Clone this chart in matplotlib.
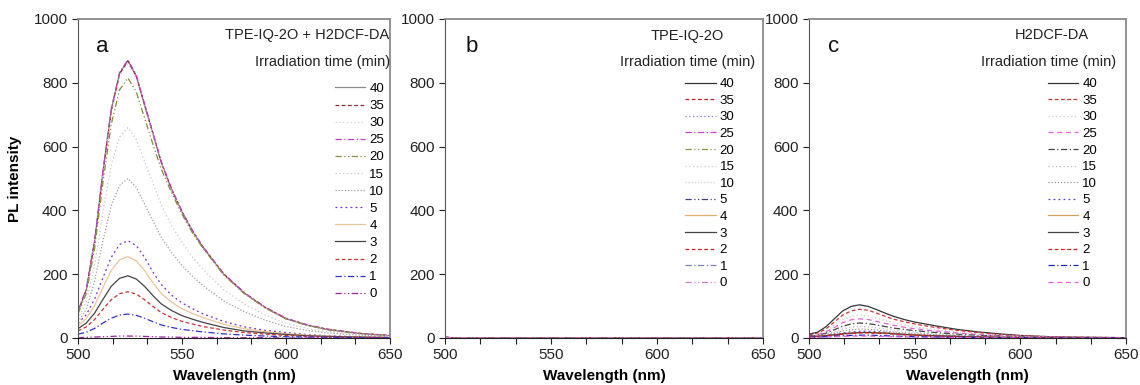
import matplotlib
matplotlib.use("Agg")
import matplotlib.pyplot as plt
from matplotlib.ticker import MultipleLocator

plt.rcParams['font.family'] = ['Liberation Sans', 'DejaVu Sans']

# wavelength grid (nm)
wl = [500, 504, 508, 512, 516, 520, 524, 528, 532, 536, 540, 545, 550, 555,
      560, 570, 580, 590, 600, 610, 620, 635, 650]
wl_b = [500, 502, 506, 520, 550, 600, 650]

times = ['40', '35', '30', '25', '20', '15', '10', '5', '4', '3', '2', '1', '0']

# panel a: TPE-IQ-2O + H2DCF-DA
a_40 = [80, 150, 300, 520, 715, 830, 870, 820, 730, 640, 550, 465, 395, 335, 285, 200, 140, 95, 60, 40, 26, 14, 7]
a_35 = [82, 152, 302, 518, 712, 828, 868, 822, 732, 642, 552, 466, 396, 336, 286, 201, 141, 96, 61, 41, 27, 15, 8]
a_30 = [78, 146, 294, 512, 705, 820, 860, 812, 725, 636, 548, 463, 394, 334, 284, 199, 139, 94, 60, 40, 26, 14, 7]
a_25 = [85, 155, 305, 522, 718, 832, 872, 824, 734, 644, 553, 468, 397, 337, 287, 202, 142, 97, 62, 42, 28, 15, 8]
a_20 = [75, 140, 281, 487, 670, 778, 815, 772, 690, 608, 530, 455, 388, 330, 282, 198, 139, 94, 60, 40, 26, 14, 7]
a_15 = [60, 114, 228, 395, 543, 630, 660, 622, 554, 486, 417, 352, 300, 254, 216, 152, 106, 72, 46, 30, 20, 11, 5]
a_10 = [50, 90, 178, 305, 415, 478, 500, 472, 420, 368, 316, 268, 228, 194, 165, 116, 82, 56, 36, 24, 16, 9, 4]
a_5 = [46, 73, 122, 189, 253, 293, 305, 290, 253, 207, 168, 134, 110, 92, 76, 52, 35, 24, 17, 11, 7, 4, 2]
a_4 = [38, 61, 102, 158, 212, 245, 255, 242, 212, 173, 140, 112, 92, 77, 64, 43, 29, 20, 14, 9, 6, 3, 2]
a_3 = [29, 47, 78, 121, 162, 187, 195, 185, 162, 133, 107, 86, 70, 59, 49, 33, 22, 16, 11, 7, 5, 3, 1]
a_2 = [22, 35, 58, 90, 120, 139, 145, 138, 120, 99, 80, 64, 52, 44, 36, 25, 17, 12, 8, 5, 3, 2, 1]
a_1 = [12, 18, 30, 47, 62, 72, 75, 71, 62, 51, 41, 33, 27, 23, 19, 13, 9, 6, 4, 3, 2, 1, 1]
a_0 = [1, 2, 3, 4, 5, 6, 6, 6, 5, 4, 3, 3, 2, 2, 2, 1, 1, 1, 0, 0, 0, 0, 0]

# panel b: TPE-IQ-2O (flat)
b_40 = [3, 1, 0, 0, 0, 0, 0]
b_35 = [3, 1, 0, 0, 0, 0, 0]
b_30 = [2, 1, 0, 0, 0, 0, 0]
b_25 = [3, 1, 1, 0, 0, 0, 0]
b_20 = [2, 1, 0, 0, 0, 0, 0]
b_15 = [2, 1, 0, 0, 0, 0, 0]
b_10 = [2, 1, 0, 0, 0, 0, 0]
b_5 = [2, 1, 0, 0, 0, 0, 0]
b_4 = [2, 1, 0, 0, 0, 0, 0]
b_3 = [2, 1, 0, 0, 0, 0, 0]
b_2 = [3, 1, 0, 0, 0, 0, 0]
b_1 = [2, 1, 0, 0, 0, 0, 0]
b_0 = [4, 2, 1, 0, 0, 0, 0]

# panel c: H2DCF-DA
c_40 = [12, 18, 35, 60, 85, 99, 104, 99, 89, 78, 68, 58, 50, 44, 38, 27, 19, 13, 8, 5, 3, 2, 1]
c_35 = [10, 15, 28, 50, 72, 85, 90, 87, 78, 68, 59, 51, 44, 38, 33, 24, 17, 11, 7, 5, 3, 2, 1]
c_30 = [8, 12, 22, 40, 57, 68, 72, 69, 62, 55, 48, 41, 35, 30, 26, 19, 13, 9, 6, 4, 2, 1, 1]
c_25 = [7, 10, 19, 33, 48, 57, 60, 58, 52, 46, 40, 34, 29, 25, 22, 16, 11, 7, 5, 3, 2, 1, 1]
c_20 = [6, 8, 15, 26, 37, 44, 47, 45, 41, 36, 31, 27, 23, 20, 17, 12, 8, 6, 4, 2, 1, 1, 0]
c_15 = [5, 7, 12, 20, 28, 34, 36, 35, 32, 28, 24, 21, 18, 15, 13, 9, 6, 4, 3, 2, 1, 1, 0]
c_10 = [4, 6, 9, 16, 22, 26, 28, 27, 25, 22, 19, 16, 14, 12, 10, 7, 5, 3, 2, 1, 1, 0, 0]
c_5 = [4, 5, 8, 12, 16, 19, 21, 21, 20, 18, 15, 13, 11, 9, 8, 6, 4, 3, 2, 1, 1, 0, 0]
c_4 = [4, 5, 7, 10, 14, 16, 17, 18, 17, 16, 14, 12, 10, 8, 7, 5, 3, 2, 2, 1, 1, 0, 0]
c_3 = [4, 5, 7, 10, 13, 15, 17, 17, 16, 15, 13, 11, 9, 8, 7, 5, 3, 2, 1, 1, 1, 0, 0]
c_2 = [3, 5, 7, 9, 12, 14, 16, 16, 15, 14, 12, 10, 9, 7, 6, 4, 3, 2, 1, 1, 0, 0, 0]
c_1 = [2, 3, 4, 6, 7, 8, 9, 9, 8, 7, 6, 5, 4, 4, 3, 2, 2, 1, 1, 0, 0, 0, 0]
c_0 = [2, 2, 3, 4, 5, 6, 6, 6, 5, 5, 4, 3, 3, 2, 2, 1, 1, 1, 0, 0, 0, 0, 0]

series_a = [a_40, a_35, a_30, a_25, a_20, a_15, a_10, a_5, a_4, a_3, a_2, a_1, a_0]
series_b = [b_40, b_35, b_30, b_25, b_20, b_15, b_10, b_5, b_4, b_3, b_2, b_1, b_0]
series_c = [c_40, c_35, c_30, c_25, c_20, c_15, c_10, c_5, c_4, c_3, c_2, c_1, c_0]

# line styles (color, dashes)
solid = ()
dash = (3, 2)
dot = (1, 2)
dashdot = (5, 2, 1, 2)
dashdotdot = (5, 2, 1, 2, 1, 2)

styles_a = [('#8c8c8c', solid), ('#8b2a2a', dash), ('#d0d0d0', dot), ('#c040c0', dashdot),
            ('#8a8a40', dashdotdot), ('#c8c8c8', dot), ('#a0a0a0', (1, 1.5)), ('#7030d0', (1.5, 2.5)),
            ('#ecc49a', solid), ('#444444', solid), ('#d03030', dash), ('#3030d0', dashdot),
            ('#a020a0', dashdotdot)]
styles_b = [('#333333', solid), ('#c02020', dash), ('#8080e0', dot), ('#d040d0', dashdot),
            ('#8a9a40', dashdotdot), ('#cccccc', dot), ('#cccccc', (1, 1.5)), ('#404080', dashdotdot),
            ('#e0b070', solid), ('#444444', solid), ('#d02020', dash), ('#8080c0', dashdot),
            ('#d080d0', dashdotdot)]
styles_c = [('#333333', solid), ('#d03030', dash), ('#cccccc', dot), ('#e060e0', (4, 3)),
            ('#444444', dashdot), ('#bbbbbb', dot), ('#999999', (1, 1.5)), ('#6040d0', (1.5, 2.5)),
            ('#d0a060', solid), ('#444444', solid), ('#e02020', dash), ('#2020c0', dashdot),
            ('#e060e0', (4, 3))]

fig = plt.figure(figsize=(11.4, 3.85), dpi=100)

panels = [
    dict(rect=[0.0684, 0.1221, 0.2737, 0.8286], x=wl, ys=series_a, st=styles_a, letter='a',
         name='TPE-IQ-2O + H2DCF-DA', name_xy=(0.997, 0.95), name_ha='right',
         irr_x=1.0, leg_xy=(0.824, 0.80), lsp=0.37),
    dict(rect=[0.3904, 0.1221, 0.2790, 0.8286], x=wl_b, ys=series_b, st=styles_b, letter='b',
         name='TPE-IQ-2O', name_xy=(0.761, 0.947), name_ha='center',
         irr_x=0.975, leg_xy=(0.755, 0.815), lsp=0.33),
    dict(rect=[0.7096, 0.1221, 0.2781, 0.8286], x=wl, ys=series_c, st=styles_c, letter='c',
         name='H2DCF-DA', name_xy=(0.767, 0.95), name_ha='center',
         irr_x=0.968, leg_xy=(0.754, 0.815), lsp=0.33),
]

for i, p in enumerate(panels):
    ax = fig.add_axes(p['rect'])
    for y, (col, ds), t in zip(p['ys'], p['st'], times):
        ln, = ax.plot(p['x'], y, color=col, lw=0.9, label=t)
        if ds:
            ln.set_dashes(ds)
    ax.set_xlim(500, 650)
    ax.set_ylim(0, 1000)
    ax.set_xticks([500, 550, 600, 650])
    ax.set_yticks([0, 200, 400, 600, 800, 1000])
    ax.xaxis.set_minor_locator(MultipleLocator(50 / 3))
    ax.tick_params(axis='both', which='both', direction='out', length=4, width=0.8,
                   labelsize=11, colors='#222222')
    for s in ['top', 'right']:
        ax.spines[s].set_color('#8a8a8a')
        ax.spines[s].set_linewidth(1.3)
    ax.spines['left'].set_color('#555555')
    ax.spines['bottom'].set_color('#222222')
    ax.set_xlabel('Wavelength (nm)', fontsize=11, fontweight='bold', labelpad=5)
    if i == 0:
        ax.set_ylabel('PL intensity', fontsize=11, fontweight='bold', labelpad=8)

    ax.text(0.077 if i != 1 else 0.085, 0.915, p['letter'], transform=ax.transAxes,
            fontsize=16, ha='center', va='center', color='#111111')
    ax.text(p['name_xy'][0], p['name_xy'][1], p['name'], transform=ax.transAxes,
            fontsize=10.5, ha=p['name_ha'], va='center', color='#222222')
    ax.text(p['irr_x'], 0.865, 'Irradiation time (min)', transform=ax.transAxes,
            fontsize=10.5, ha='right', va='center', color='#222222')
    ax.legend(loc='upper left', bbox_to_anchor=p['leg_xy'], frameon=False,
              fontsize=9.5, handlelength=2.3, handletextpad=0.3,
              labelspacing=p['lsp'], borderpad=0, borderaxespad=0)

fig.savefig('out.png', dpi=100)
